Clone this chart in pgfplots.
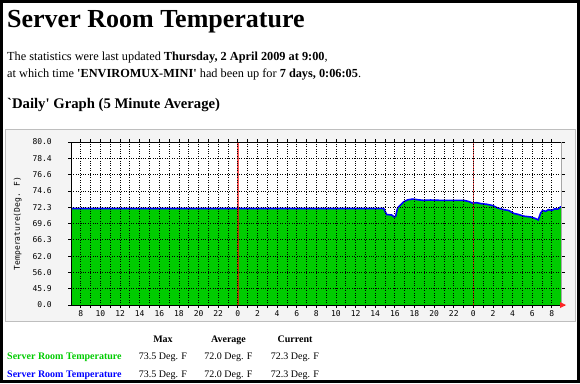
\documentclass[border=0pt]{standalone}
\usepackage{fontspec}
\setmainfont{Liberation Serif}[Ligatures=TeXOff]
\newfontfamily\gdfont{DejaVu Sans Mono}
\usepackage{pgfplots}
\usepackage{pgfplotstable}
\pgfplotsset{compat=1.18}
\definecolor{mrtggreen}{RGB}{0,204,0}
\definecolor{mrtgblue}{RGB}{0,0,255}
\definecolor{boxbg}{RGB}{244,244,244}
\definecolor{boxline}{RGB}{190,190,190}

\pgfplotstableread{
t u
-1 5.92
30.86 5.92
31.16 5.55
31.68 5.52
31.93 5.40
32.08 5.45
32.28 5.95
32.59 6.15
32.90 6.33
33.30 6.45
33.81 6.50
34.42 6.45
34.93 6.42
35.64 6.44
36.67 6.42
37.69 6.42
39.01 6.42
39.52 6.35
39.93 6.25
40.34 6.28
40.75 6.22
41.36 6.18
41.97 6.10
42.48 5.95
43.09 5.85
43.60 5.80
44.11 5.62
44.62 5.55
45.13 5.45
45.84 5.40
46.35 5.30
46.60 5.22
46.86 5.65
47.06 5.80
47.36 5.75
47.67 5.85
47.98 5.80
48.28 5.90
48.59 5.88
48.90 6.02
49.00 6.02
}\temps

\begin{document}
\begin{tikzpicture}[x=1pt,y=1pt]
\useasboundingbox (0,0) rectangle (580,-383);
\fill[white] (0,0) rectangle (580,-383);

% page text
\node[anchor=base west, inner sep=0, font=\bfseries\fontsize{26}{28}\selectfont] at (7,-27) {Server Room Temperature};
\node[anchor=base west, inner sep=0, font=\fontsize{12.3}{14}\selectfont] at (7,-60) {The statistics were last updated \textbf{Thursday, 2 April 2009 at 9:00},};
\node[anchor=base west, inner sep=0, font=\fontsize{12.3}{14}\selectfont] at (7,-77) {at which time \textbf{'ENVIROMUX-MINI'} had been up for \textbf{7 days, 0:06:05}.};
\node[anchor=base west, inner sep=0, font=\bfseries\fontsize{14.7}{16}\selectfont] at (7,-108) {`Daily' Graph (5 Minute Average)};

% graph box
\filldraw[fill=boxbg, draw=boxline, line width=1] (5,-129) rectangle (575,-321);

\begin{axis}[
  at={(71pt,-305pt)}, anchor=south west,
  scale only axis, width=490.7pt, height=163pt,
  xmin=-1, xmax=49, ymin=0, ymax=10,
  xtick={0,2,...,48},
  xticklabels={8,10,12,14,16,18,20,22,0,2,4,6,8,10,12,14,16,18,20,22,0,2,4,6,8},
  minor x tick num=1,
  ytick={0,1,...,10},
  yticklabels={0.0,45.9,56.0,62.0,66.3,69.6,72.3,74.6,76.6,78.4,80.0},
  grid=both,
  major grid style={black, dotted, line width=0.8pt},
  minor grid style={black, dotted, line width=0.8pt},
  tick align=outside, major tick length=3pt, minor tick length=3pt,
  tick style={black, line width=0.8pt},
  every tick label/.append style={font=\gdfont\fontsize{8}{8}\selectfont, inner sep=0pt},
  yticklabel style={xshift=-16pt},
  xticklabel style={yshift=-2.5pt},
  axis on top,
  axis background/.style={fill=white},
  axis line style={black, line width=1pt},
  clip=true,
]
\addplot[fill=mrtggreen, draw=none] table[x=t, y=u] {\temps} \closedcycle;
\addplot[mrtgblue, line width=1.6pt] table[x=t, y=u] {\temps};
\addplot[red, opacity=0.65, line width=1.6pt] coordinates {(16,0) (16,10)};
\addplot[red, opacity=0.65, line width=1.6pt] coordinates {(40,0) (40,10)};
\end{axis}

\draw[gray!70, line width=1] (561.7,-142) -- (561.7,-305);
\fill[red!85] (560,-302) -- (566,-305) -- (560,-308) -- cycle;

\node[rotate=90, inner sep=0, font=\gdfont\fontsize{8}{8}\selectfont] at (17.7,-223.5) {Temperature(Deg. F)};

% legend table
\begin{scope}[every node/.style={inner sep=0, font=\fontsize{10}{12}\selectfont}]
\node[anchor=base, font=\bfseries\fontsize{10}{12}\selectfont] at (163,-342) {Max};
\node[anchor=base, font=\bfseries\fontsize{10}{12}\selectfont] at (228.5,-342) {Average};
\node[anchor=base, font=\bfseries\fontsize{10}{12}\selectfont] at (295,-342) {Current};
\node[anchor=base west, text=mrtggreen, font=\bfseries\fontsize{10}{12}\selectfont] at (7,-359) {Server Room Temperature};
\node[anchor=base] at (163,-359) {73.5 Deg. F};
\node[anchor=base] at (228.5,-359) {72.0 Deg. F};
\node[anchor=base] at (295,-359) {72.3 Deg. F};
\node[anchor=base west, text=mrtgblue, font=\bfseries\fontsize{10}{12}\selectfont] at (7,-377) {Server Room Temperature};
\node[anchor=base] at (163,-377) {73.5 Deg. F};
\node[anchor=base] at (228.5,-377) {72.0 Deg. F};
\node[anchor=base] at (295,-377) {72.3 Deg. F};
\end{scope}

\draw[black, line width=3] (1.5,-1.5) rectangle (578.5,-381.5);
\end{tikzpicture}
\end{document}
